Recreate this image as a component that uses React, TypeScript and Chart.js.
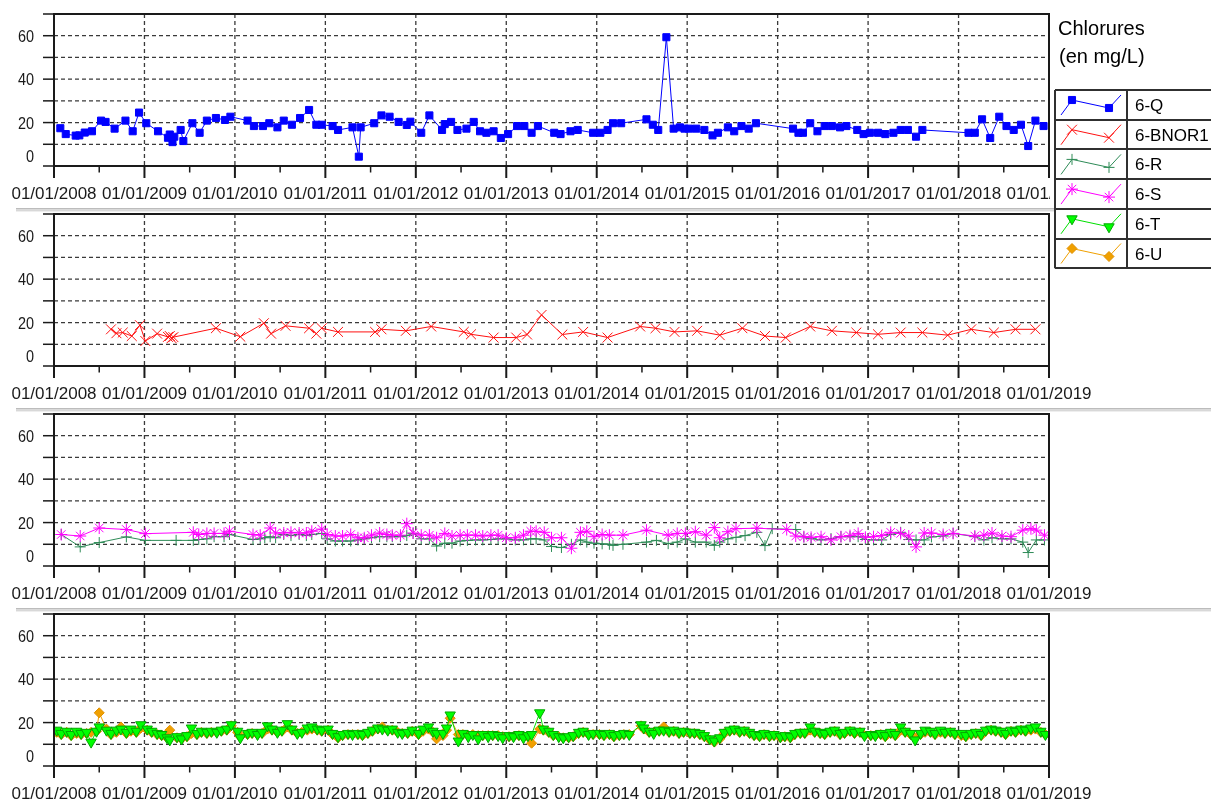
import React, { useEffect, useRef } from 'react';
import { Chart, registerables } from 'chart.js';
import { drawPoint } from 'chart.js/helpers';

Chart.register(...registerables);

const FONT = "Arial, 'Liberation Sans', sans-serif";
const WIDTH = 1211;
const PANEL_HEIGHT = 200;
const PLOT_TOP = 14;
const PLOT_BOTTOM = 166;
const PLOT_LEFT = 54;
const PLOT_RIGHT = 1049;

// Axis definitions (x in decimal years)
const YEARS = [2008, 2009, 2010, 2011, 2012, 2013, 2014, 2015, 2016, 2017, 2018, 2019];
const Y_GRID_VALUES = [0, 10, 20, 30, 40, 50, 60, 70];
const Y_LABEL_VALUES = [0, 20, 40, 60];

// 6-Q
const Q_DATES = [
  2008.07, 2008.13, 2008.24, 2008.28, 2008.34, 2008.42, 2008.52, 2008.57, 2008.67, 2008.79, 2008.87, 2008.94,
  2009.02, 2009.15, 2009.26, 2009.28, 2009.31, 2009.33, 2009.40, 2009.43, 2009.53, 2009.61, 2009.69, 2009.79, 2009.89, 2009.95,
  2010.14, 2010.21, 2010.31, 2010.38, 2010.47, 2010.54, 2010.63, 2010.72, 2010.82, 2010.90, 2010.96,
  2011.08, 2011.14, 2011.30, 2011.37, 2011.39, 2011.54, 2011.62, 2011.71, 2011.81, 2011.90, 2011.94,
  2012.06, 2012.15, 2012.29, 2012.32, 2012.39, 2012.46, 2012.56, 2012.64, 2012.71, 2012.78, 2012.86, 2012.94,
  2013.02, 2013.12, 2013.20, 2013.28, 2013.35, 2013.53, 2013.60, 2013.71, 2013.79, 2013.96,
  2014.04, 2014.12, 2014.18, 2014.27, 2014.55, 2014.62, 2014.68, 2014.77, 2014.85, 2014.92, 2014.97,
  2015.02, 2015.10, 2015.19, 2015.28, 2015.34, 2015.45, 2015.52, 2015.60, 2015.68, 2015.76,
  2016.17, 2016.23, 2016.28, 2016.36, 2016.44, 2016.52, 2016.60, 2016.69, 2016.76, 2016.88, 2016.95,
  2017.02, 2017.11, 2017.19, 2017.28, 2017.36, 2017.44, 2017.53, 2017.60,
  2018.11, 2018.18, 2018.26, 2018.35, 2018.45, 2018.53, 2018.61, 2018.69, 2018.77, 2018.85, 2018.94,
];
const Q_VALUES = [
  17.4, 14.7, 14.0, 14.1, 15.4, 16.0, 20.9, 20.3, 17.2, 20.9, 16.0, 24.6,
  19.7, 16.0, 13.0, 14.5, 11.0, 13.5, 16.6, 11.5, 19.7, 15.3, 20.9, 22.1, 21.2, 22.7,
  20.9, 18.4, 18.4, 19.7, 17.8, 20.9, 19.0, 22.1, 25.8, 19.0, 19.0,
  18.4, 16.6, 17.8, 4.3, 17.8, 19.7, 23.3, 22.7, 20.3, 18.9, 20.4,
  15.3, 23.3, 16.6, 19.3, 20.3, 16.6, 17.2, 20.3, 16.0, 15.3, 16.0, 12.9,
  14.7, 18.4, 18.4, 15.3, 18.4, 15.3, 14.7, 16.0, 16.6, 15.3,
  15.3, 16.6, 19.7, 19.7, 21.5, 19.0, 16.6, 59.3, 17.2, 17.8, 17.2,
  17.2, 17.2, 16.6, 14.1, 15.3, 17.8, 16.0, 18.4, 17.2, 19.7,
  17.2, 15.3, 15.3, 19.7, 16.0, 18.4, 18.4, 17.8, 18.4, 16.6, 14.7,
  15.3, 15.3, 14.7, 15.3, 16.6, 16.6, 13.5, 16.6,
  15.3, 15.3, 21.5, 12.9, 22.7, 18.4, 16.6, 19.0, 9.2, 20.9, 18.4,
];

// 6-BNOR1
const BNOR1_DATES = [
  2008.63, 2008.69, 2008.76, 2008.86, 2008.95,
  2009.01, 2009.14, 2009.26, 2009.28, 2009.30, 2009.32, 2009.79,
  2010.06, 2010.32, 2010.40, 2010.56, 2010.82, 2010.90, 2010.96,
  2011.14, 2011.55, 2011.62, 2011.89,
  2012.17, 2012.53, 2012.61, 2012.86,
  2013.11, 2013.23, 2013.39, 2013.62, 2013.85,
  2014.12, 2014.48, 2014.65, 2014.86,
  2015.11, 2015.36, 2015.61, 2015.86,
  2016.09, 2016.36, 2016.60, 2016.87,
  2017.11, 2017.36, 2017.60, 2017.88,
  2018.14, 2018.39, 2018.63, 2018.85,
];
const BNOR1_VALUES = [
  16.9, 15.1, 15.4, 13.8, 18.8,
  11.5, 14.9, 13.4, 13.8, 12.8, 13.3, 17.4,
  13.5, 19.7, 14.9, 18.5, 17.4, 14.9, 17.4,
  15.7, 15.7, 16.9, 16.2,
  18.2, 15.7, 14.6, 13.1,
  13.1, 14.5, 23.5, 14.5, 15.7,
  13.1, 18.2, 17.4, 15.7,
  16.2, 14.2, 17.4, 13.8,
  13.1, 18.2, 16.2, 15.4,
  14.6, 15.4, 15.4, 14.2,
  16.9, 15.4, 16.9, 16.9,
];

// 6-R and 6-S (shared sampling dates, null = not sampled)
const RS_DATES = [
  2008.08, 2008.29, 2008.50, 2008.80,
  2009.01, 2009.35, 2009.54, 2009.60, 2009.69, 2009.77, 2009.88, 2009.94,
  2010.20, 2010.28, 2010.33, 2010.39, 2010.45, 2010.54, 2010.62, 2010.71, 2010.79, 2010.85, 2010.96,
  2011.02, 2011.11, 2011.19, 2011.28, 2011.36, 2011.43, 2011.51, 2011.60, 2011.68, 2011.74, 2011.83, 2011.90, 2011.97,
  2012.06, 2012.15, 2012.23, 2012.32, 2012.40, 2012.49, 2012.57, 2012.66, 2012.74, 2012.83, 2012.91,
  2013.00, 2013.10, 2013.19, 2013.27, 2013.33, 2013.42, 2013.50, 2013.61, 2013.72, 2013.82, 2013.89, 2013.97,
  2014.06, 2014.14, 2014.18, 2014.29, 2014.55, 2014.66, 2014.79, 2014.89, 2014.98,
  2015.09, 2015.21, 2015.30, 2015.36, 2015.45, 2015.54, 2015.64, 2015.77, 2015.86, 2015.94,
  2016.10, 2016.20, 2016.29, 2016.37, 2016.48, 2016.59, 2016.70, 2016.80, 2016.89, 2016.97,
  2017.06, 2017.15, 2017.25, 2017.36, 2017.45, 2017.53, 2017.62, 2017.70, 2017.83, 2017.94,
  2018.18, 2018.28, 2018.37, 2018.48, 2018.58, 2018.71, 2018.77, 2018.80, 2018.86, 2018.95,
];
const R_VALUES = [
  14.5, 8.8, 10.8, 13.4,
  11.8, 11.8, 11.8, 12.2, 12.5, 13.5, 13.5, 14.5,
  12.2, 12.5, 13.0, 13.5, 13.0, 14.5, 14.0, 14.5, 14.0, 14.5, 15.0,
  12.5, 11.5, 11.5, 11.5, 12.0, 12.5, 13.0, 13.5, 13.5, 13.5, 13.5, 14.0, 15.0,
  12.5, 12.5, 9.2, 10.5, 10.5, 11.5, 11.8, 12.0, 12.0, 12.2, 12.5,
  12.5, 12.0, 12.0, 12.5, 12.5, 12.0, 9.0, 8.5, 10.0, 12.0, 11.0, 10.5,
  10.2, 10.0, 9.5, 10.0, 11.0, 11.8, 10.3, 11.0, 12.5,
  11.0, 11.0, 9.5, 11.0, 12.5, 13.2, 14.0, 15.5, 9.4, 17.2,
  null, 16.8, 13.4, 12.6, 12.0, 12.6, 13.5, 13.5, 13.5, 12.2,
  12.0, 12.0, 14.5, 15.5, 12.2, 12.0, 12.0, 13.4, 13.8, 15.0,
  13.5, 12.0, 13.0, 12.5, 12.5, 11.0, 6.2, null, 12.0, 12.0,
];
const S_VALUES = [
  14.5, 13.8, 17.5, 16.8,
  14.9, null, 15.5, 14.5, 15.0, 15.0, 15.0, 16.0,
  14.5, 14.2, null, 17.5, 15.2, 15.2, 15.5, 15.2, 15.2, 16.0, 17.0,
  14.5, 13.8, 13.8, 14.5, 13.0, 13.0, 14.2, 15.2, 14.5, 14.2, 14.2, 19.5, 15.2,
  14.2, 14.2, 13.0, 15.0, 13.8, 14.2, 14.2, 14.2, 13.8, 14.2, 14.2,
  13.0, 13.0, 14.2, 16.0, 16.0, 15.5, 13.0, 13.0, 8.2, 15.5, 16.0, 13.5,
  14.5, 14.2, null, 14.2, 16.5, null, 14.2, 15.0, 15.0,
  15.8, 14.2, 17.7, 13.0, 15.8, 17.2, null, 17.4, null, null,
  16.8, 13.8, 13.5, 13.2, 13.5, 12.0, 13.5, 14.0, 15.0, 13.2,
  13.5, 14.0, 15.5, 15.0, 13.8, 8.8, 15.2, 15.2, 14.5, 15.0,
  13.8, 14.2, 15.2, 13.8, 13.5, 16.5, null, 17.2, 16.5, 14.2,
];

// 6-T and 6-U (shared sampling dates)
const TU_DATES = [
  2008.03, 2008.08, 2008.14, 2008.19, 2008.25, 2008.30, 2008.36, 2008.41, 2008.47, 2008.50, 2008.58, 2008.63, 2008.69, 2008.74, 2008.80, 2008.85, 2008.91, 2008.96,
  2009.03, 2009.08, 2009.14, 2009.19, 2009.25, 2009.28, 2009.36, 2009.41, 2009.47, 2009.52, 2009.58, 2009.63, 2009.69, 2009.74, 2009.80, 2009.85, 2009.91, 2009.96,
  2010.03, 2010.06, 2010.14, 2010.19, 2010.25, 2010.30, 2010.36, 2010.41, 2010.47, 2010.52, 2010.58, 2010.63, 2010.69, 2010.74, 2010.80, 2010.85, 2010.91, 2010.96,
  2011.03, 2011.08, 2011.14, 2011.19, 2011.25, 2011.30, 2011.36, 2011.41, 2011.47, 2011.52, 2011.58, 2011.63, 2011.69, 2011.74, 2011.80, 2011.85, 2011.91, 2011.96,
  2012.03, 2012.08, 2012.14, 2012.19, 2012.23, 2012.30, 2012.34, 2012.38, 2012.47, 2012.52, 2012.58, 2012.63, 2012.69, 2012.74, 2012.80, 2012.85, 2012.91, 2012.96,
  2013.03, 2013.08, 2013.14, 2013.19, 2013.24, 2013.28, 2013.37, 2013.41, 2013.47, 2013.52, 2013.58, 2013.63, 2013.69, 2013.74, 2013.80, 2013.85, 2013.91, 2013.96,
  2014.03, 2014.08, 2014.14, 2014.19, 2014.25, 2014.30, 2014.36, 2014.49, 2014.52, 2014.58, 2014.63, 2014.69, 2014.74, 2014.80, 2014.85, 2014.91, 2014.96,
  2015.03, 2015.08, 2015.14, 2015.19, 2015.25, 2015.30, 2015.36, 2015.41, 2015.47, 2015.52, 2015.58, 2015.63, 2015.69, 2015.74, 2015.80, 2015.85, 2015.91, 2015.96,
  2016.03, 2016.08, 2016.14, 2016.19, 2016.25, 2016.30, 2016.36, 2016.41, 2016.47, 2016.52, 2016.58, 2016.63, 2016.69, 2016.74, 2016.80, 2016.85, 2016.91, 2016.96,
  2017.03, 2017.08, 2017.14, 2017.19, 2017.25, 2017.30, 2017.36, 2017.41, 2017.47, 2017.52, 2017.58, 2017.63, 2017.69, 2017.74, 2017.80, 2017.85, 2017.91, 2017.96,
  2018.03, 2018.08, 2018.14, 2018.19, 2018.25, 2018.30, 2018.36, 2018.41, 2018.47, 2018.52, 2018.58, 2018.63, 2018.69, 2018.74, 2018.80, 2018.85, 2018.91, 2018.96,
];
const T_VALUES = [
  16.5, 15, 16, 14.5, 16, 15, 15.5, 11, 16, 18, 16.5, 15, 16.5, 17, 15.5, 17, 16, 19,
  17, 16, 15, 14.5, 13, 12, 13.5, 12.5, 14, 17.5, 15, 16, 15.5, 16, 15.5, 16.5, 17, 19,
  16, 13, 15, 15.5, 14.5, 15.5, 18.5, 17, 15.5, 16.5, 19.5, 17, 15, 15.5, 17.5, 18, 17, 16.5,
  17, 15, 13.5, 14.5, 15, 14.5, 15, 14.5, 15.5, 16.5, 17.5, 17, 16.5, 17, 15.5, 15, 15.5, 16.5,
  15, 17, 18, 16, 15, 15, 17.5, 23.5, 11.5, 15, 13.5, 14.5, 12.5, 14.5, 13.5, 14.5, 14, 13,
  14, 13.5, 14.5, 13, 14, 14.5, 24.5, 17, 16, 14.5, 13.5, 13, 13.5, 14, 15.5, 16, 14.5, 15,
  15, 14.5, 15, 14, 14.5, 15, 14.5, 19, 17.5, 16, 15, 16.5, 16.5, 16, 16.5, 15.5, 16,
  15.5, 15.5, 15, 14, 12.5, 11.5, 13, 15.5, 16.5, 17, 16, 16.5, 15.5, 14.5, 14, 15, 14, 14.5,
  13.5, 14, 13.5, 15, 15.5, 15.5, 18, 16, 15.5, 15, 16, 16.5, 15, 15.5, 16.5, 15.5, 16, 14,
  14.5, 14, 15, 14, 15.5, 14.5, 18, 16, 15, 12, 15, 16.5, 16, 15, 16.5, 15.5, 16, 15,
  15, 14, 15, 15.5, 14.5, 16.5, 17, 16.5, 16, 15, 16.5, 16, 17, 16.5, 17.5, 18, 16, 14.5,
];
const U_VALUES = [
  15.5, 14.5, 15.5, 14, 15, 14.5, 15, 15.5, 16, 24.5, 17, 14.5, 15.5, 18, 15, 16, 15.5, 17.5,
  16.5, 15.5, 14.5, 14, 13, 16.5, 13, 12.5, 13.5, 15, 14.5, 15.5, 15, 15.5, 15.5, 16, 16.5, 18.5,
  15.5, 13.5, 14.5, 15, 14.5, 15, 17, 16.5, 15.5, 16, 18, 16.5, 15, 15.5, 16.5, 17, 16.5, 16,
  16.5, 14.5, 13, 14, 14.5, 14.5, 14.5, 14, 15, 16, 17, 18, 16.5, 16.5, 15.5, 15, 15, 16,
  14.5, 16, 17, 15.5, 12.5, 14, 16.5, 22, 14.5, 14.5, 14, 14.5, 14, 14, 14, 14, 14, 13.5,
  13.5, 13.5, 14, 13.5, 13.5, 10.5, 17, 16.5, 15.5, 14, 13.5, 13, 13, 13.5, 15, 15.5, 14.5, 14.5,
  14.5, 14, 14.5, 13.5, 14, 14.5, 14.5, 18.5, 17, 15.5, 15.5, 16, 18, 15.5, 16, 15, 15.5,
  15, 15, 14.5, 13.5, 12, 11, 12.5, 15, 16, 16.5, 15.5, 16, 15, 14, 13.5, 14.5, 13.5, 14,
  13, 13.5, 13, 14.5, 15, 15, 16.5, 15.5, 15, 14.5, 15.5, 16, 14.5, 15, 16, 15, 15.5, 14,
  14, 14, 14.5, 13.5, 15, 14, 16.5, 15.5, 14.5, 13, 14.5, 15.5, 15.5, 14.5, 15.5, 15, 15.5, 14.5,
  14, 13.5, 14.5, 15, 14, 16, 16.5, 16, 15.5, 14.5, 16, 15.5, 16.5, 16, 16.5, 17, 15.5, 14.5,
];

type Style = {
  label: string;
  line: string;
  fill: string;
  edge: string;
  pointStyle: string;
  radius: number;
  rotation: number;
};

const STYLE_Q: Style = { label: '6-Q', line: '#0000FF', fill: '#0000FF', edge: '#0000FF', pointStyle: 'rect', radius: 5, rotation: 0 };
const STYLE_BNOR1: Style = { label: '6-BNOR1', line: '#FF1010', fill: '#FF1010', edge: '#FF1010', pointStyle: 'crossRot', radius: 7, rotation: 0 };
const STYLE_R: Style = { label: '6-R', line: '#2E8B57', fill: '#2E8B57', edge: '#2E8B57', pointStyle: 'cross', radius: 5.5, rotation: 0 };
const STYLE_S: Style = { label: '6-S', line: '#FF00FF', fill: '#FF00FF', edge: '#FF00FF', pointStyle: 'star', radius: 6, rotation: 0 };
const STYLE_T: Style = { label: '6-T', line: '#00E000', fill: '#00FF00', edge: '#00A800', pointStyle: 'triangle', radius: 6, rotation: 180 };
const STYLE_U: Style = { label: '6-U', line: '#F0A000', fill: '#F0A000', edge: '#E09000', pointStyle: 'rectRot', radius: 5, rotation: 0 };

const LEGEND_ITEMS = [STYLE_Q, STYLE_BNOR1, STYLE_R, STYLE_S, STYLE_T, STYLE_U];

function series(dates: number[], values: (number | null)[], s: Style, order: number) {
  return {
    label: s.label,
    data: dates.map((d, i) => ({ x: d, y: values[i] })),
    borderColor: s.line,
    backgroundColor: s.fill,
    borderWidth: 1,
    pointStyle: s.pointStyle,
    pointRadius: s.radius,
    pointHoverRadius: s.radius,
    pointRotation: s.rotation,
    pointBackgroundColor: s.fill,
    pointBorderColor: s.edge,
    pointBorderWidth: 1,
    tension: 0,
    spanGaps: true,
    order,
  };
}

function line(ctx: CanvasRenderingContext2D, x1: number, y1: number, x2: number, y2: number) {
  ctx.beginPath();
  ctx.moveTo(x1, y1);
  ctx.lineTo(x2, y2);
  ctx.stroke();
}

function drawLegend(ctx: CanvasRenderingContext2D) {
  ctx.save();
  ctx.fillStyle = '#000';
  ctx.textAlign = 'left';
  ctx.textBaseline = 'alphabetic';
  ctx.font = `20px ${FONT}`;
  ctx.fillText('Chlorures', 1058, 35);
  ctx.fillText('(en mg/L)', 1059, 63);

  const top = 90;
  const rowH = 29.7;
  const left = 1055;
  const divider = 1127;
  const bottom = top + rowH * LEGEND_ITEMS.length;
  ctx.fillStyle = '#fff';
  ctx.fillRect(left, top, WIDTH - left, bottom - top);
  ctx.strokeStyle = '#303030';
  ctx.lineWidth = 2;
  line(ctx, left, top, WIDTH + 2, top);
  line(ctx, left, top, left, bottom);
  line(ctx, divider, top, divider, bottom);
  for (let i = 1; i <= LEGEND_ITEMS.length; i++) {
    const y = Math.round(top + i * rowH);
    line(ctx, left, y, WIDTH + 2, y);
  }

  LEGEND_ITEMS.forEach((s, i) => {
    const y0 = top + i * rowH;
    ctx.strokeStyle = s.line;
    ctx.lineWidth = 1;
    ctx.beginPath();
    ctx.moveTo(1061, y0 + 25);
    ctx.lineTo(1072, y0 + 10);
    ctx.lineTo(1109, y0 + 18);
    ctx.lineTo(1121, y0 + 5);
    ctx.stroke();
    ctx.fillStyle = s.fill;
    ctx.strokeStyle = s.edge;
    const opts = { pointStyle: s.pointStyle, radius: s.radius, rotation: s.rotation, borderWidth: 1 };
    drawPoint(ctx, opts as any, 1072, y0 + 10);
    drawPoint(ctx, opts as any, 1109, y0 + 18);
    ctx.fillStyle = '#000';
    ctx.font = `17px ${FONT}`;
    ctx.fillText(s.label, 1135, y0 + 21);
  });
  ctx.restore();
}

// Dashed grid, frame, tick marks and tick labels of one panel
const framePlugin = {
  id: 'frame',
  beforeDraw(chart: any, _args: any, opts: any) {
    if (!opts.separator) return;
    const ctx = chart.ctx as CanvasRenderingContext2D;
    ctx.save();
    ctx.fillStyle = '#bcbcbc';
    ctx.fillRect(16, 8, WIDTH - 16, 1.5);
    ctx.fillStyle = '#d8d8d8';
    ctx.fillRect(16, 9.5, WIDTH - 16, 1.5);
    ctx.fillStyle = '#eeeeee';
    ctx.fillRect(16, 11, WIDTH - 16, 1);
    ctx.restore();
  },
  beforeDatasetsDraw(chart: any) {
    const ctx = chart.ctx as CanvasRenderingContext2D;
    const a = chart.chartArea;
    const { x, y } = chart.scales;
    ctx.save();
    ctx.strokeStyle = '#3a3a3a';
    ctx.lineWidth = 1.3;
    ctx.setLineDash([4, 3]);
    for (const v of Y_GRID_VALUES.slice(1, -1)) {
      const py = y.getPixelForValue(v);
      line(ctx, a.left, py, a.right, py);
    }
    for (const yr of YEARS.slice(1, -1)) {
      const px = x.getPixelForValue(yr);
      line(ctx, px, a.top, px, a.bottom);
    }
    ctx.restore();
  },
  afterDatasetsDraw(chart: any, _args: any, opts: any) {
    const ctx = chart.ctx as CanvasRenderingContext2D;
    const a = chart.chartArea;
    const { x, y } = chart.scales;
    ctx.save();
    ctx.setLineDash([]);
    ctx.strokeStyle = '#1a1a1a';
    ctx.lineWidth = 2;
    ctx.strokeRect(a.left, a.top, a.right - a.left, a.bottom - a.top);

    // y tick marks and labels
    ctx.lineWidth = 1.5;
    for (const v of Y_GRID_VALUES) {
      const py = y.getPixelForValue(v);
      line(ctx, a.left - 11, py, a.left, py);
    }
    ctx.fillStyle = '#1a1a1a';
    ctx.font = `17px ${FONT}`;
    ctx.textAlign = 'right';
    ctx.textBaseline = 'alphabetic';
    for (const v of Y_LABEL_VALUES) {
      const py = y.getPixelForValue(v) - (v === 0 ? 10.5 : 0);
      ctx.save();
      ctx.translate(a.left - 20, py + 6);
      ctx.scale(0.85, 1);
      ctx.fillText(String(v), 0, 0);
      ctx.restore();
    }

    // x tick marks: years (long) and half years (short)
    for (const yr of YEARS) {
      const px = x.getPixelForValue(yr);
      ctx.lineWidth = 2;
      line(ctx, px, a.bottom, px, a.bottom + 12);
      if (yr < YEARS[YEARS.length - 1]) {
        const ph = x.getPixelForValue(yr + 0.5);
        ctx.lineWidth = 1.5;
        line(ctx, ph, a.bottom, ph, a.bottom + 6.5);
      }
    }

    ctx.save();
    if (opts.clipRight) {
      ctx.beginPath();
      ctx.rect(0, 0, opts.clipRight, chart.height);
      ctx.clip();
    }
    ctx.font = `17px ${FONT}`;
    ctx.textAlign = 'center';
    for (const yr of YEARS) {
      ctx.fillText(`01/01/${yr}`, x.getPixelForValue(yr), a.bottom + 33);
    }
    ctx.restore();

    if (opts.legend) drawLegend(ctx);
    ctx.restore();
  },
};

// The first panel's canvas is taller so its legend can hang over the next panel
const PANELS = [
  { datasets: () => [series(Q_DATES, Q_VALUES, STYLE_Q, 0)], legend: true, clipRight: 1050, height: 272 },
  { datasets: () => [series(BNOR1_DATES, BNOR1_VALUES, STYLE_BNOR1, 0)], legend: false, clipRight: 0, height: PANEL_HEIGHT },
  { datasets: () => [series(RS_DATES, R_VALUES, STYLE_R, 1), series(RS_DATES, S_VALUES, STYLE_S, 0)], legend: false, clipRight: 0, height: PANEL_HEIGHT },
  { datasets: () => [series(TU_DATES, T_VALUES, STYLE_T, 0), series(TU_DATES, U_VALUES, STYLE_U, 1)], legend: false, clipRight: 0, height: PANEL_HEIGHT },
];

function Panel({ index }: { index: number }) {
  const ref = useRef<HTMLCanvasElement>(null);
  const cfg = PANELS[index];
  useEffect(() => {
    const chart = new Chart(ref.current as HTMLCanvasElement, {
      type: 'line',
      data: { datasets: cfg.datasets() as any },
      options: {
        responsive: false,
        animation: false,
        events: [],
        layout: {
          padding: { left: PLOT_LEFT, right: WIDTH - PLOT_RIGHT, top: PLOT_TOP, bottom: cfg.height - PLOT_BOTTOM },
        },
        scales: {
          x: { type: 'linear', min: YEARS[0], max: YEARS[YEARS.length - 1], display: false },
          y: { type: 'linear', min: 0, max: 70, display: false },
        },
        plugins: {
          legend: { display: false },
          tooltip: { enabled: false },
          frame: { legend: cfg.legend, clipRight: cfg.clipRight, separator: index > 0 },
        } as any,
      },
      plugins: [framePlugin as any],
    });
    return () => chart.destroy();
  }, [index]);
  return (
    <canvas
      ref={ref}
      width={WIDTH}
      height={cfg.height}
      style={{ position: 'absolute', left: 0, top: index * PANEL_HEIGHT, display: 'block', zIndex: cfg.legend ? 2 : 1 }}
    />
  );
}

export default function App() {
  return (
    <div style={{ position: 'absolute', left: 0, top: 0, width: WIDTH, height: 800, background: '#fff', overflow: 'hidden' }}>
      {PANELS.map((_, i) => (
        <Panel key={i} index={i} />
      ))}
    </div>
  );
}
